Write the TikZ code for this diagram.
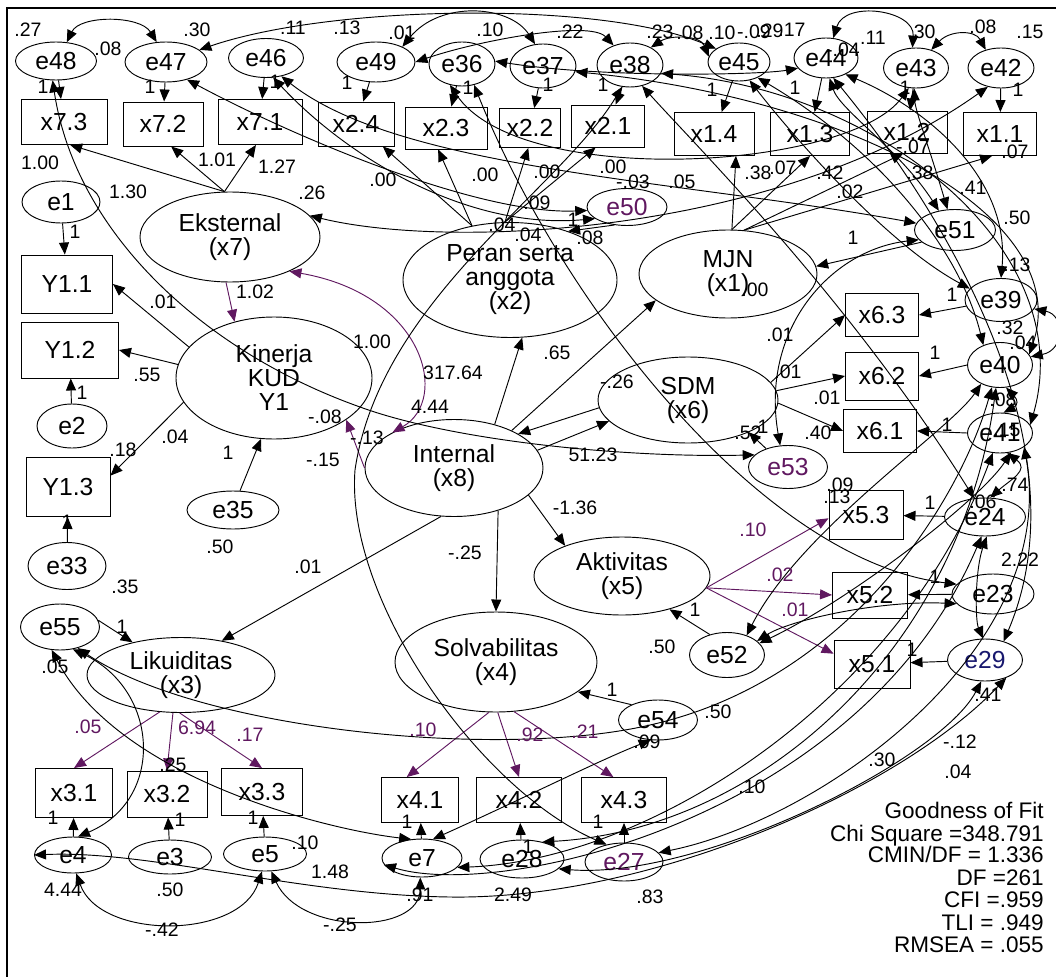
\documentclass[tikz,border=0pt]{standalone}
\usepackage{fontspec}
\setmainfont{Liberation Sans}
\usetikzlibrary{arrows.meta,shapes.geometric}
\definecolor{purp}{RGB}{96,24,96}
\definecolor{navyc}{RGB}{24,24,110}
\newcommand\myNodeFont{\fontsize{18.5}{18}\selectfont}
\newcommand\myLblFont{\fontsize{14.6}{14.6}\selectfont}
\newcommand\myGofFont{\fontsize{16.9}{16.9}\selectfont}
\begin{document}
\begin{tikzpicture}[x=0.75pt,y=-0.75pt,
  >={Triangle[length=9pt,width=7.5pt]},
  sz/.style 2 args={minimum width={#1*0.75pt}, minimum height={#2*0.75pt}},
  obs/.style={rectangle, draw, line width=0.7pt, inner sep=0pt, font=\myNodeFont},
  err/.style={ellipse, draw, line width=0.7pt, inner sep=0pt, font=\myNodeFont},
  lat/.style={ellipse, draw, line width=0.7pt, inner sep=0pt, align=center, font=\myNodeFont},
  pth/.style={->, line width=0.7pt},
  ppth/.style={->, line width=0.7pt, draw=purp},
  cov/.style={<->, line width=0.7pt},
  lbl/.style={inner sep=0pt, font=\myLblFont},
  plbl/.style={inner sep=0pt, font=\myLblFont, text=purp},
  gof/.style={inner sep=0pt, anchor=base east, font=\myGofFont},
]
\useasboundingbox (0,0) rectangle (1056,977);
\draw[line width=2.2pt] (7,977) -- (7,8) -- (1056,8);

% observed boxes
\node[obs, sz={86}{45}] (x73) at (64,122) {x7.3};
\node[obs, sz={80}{44}] (x72) at (163,124) {x7.2};
\node[obs, sz={84}{45}] (x71) at (260,122) {x7.1};
\node[obs, sz={76}{44}] (x24) at (356,124) {x2.4};
\node[obs, sz={82}{42}] (x23) at (446,128) {x2.3};
\node[obs, sz={61}{39}] (x22) at (530,128) {x2.2};
\node[obs, sz={73}{42}] (x21) at (608,126) {x2.1};
\node[obs, sz={80}{43}] (x14) at (714,134) {x1.4};
\node[obs, sz={79}{43}] (x13) at (810,134) {x1.3};
\node[obs, sz={80}{42}] (x12) at (907,132) {x1.2};
\node[obs, sz={73}{43}] (x11) at (1000,134) {x1.1};
\node[obs, sz={91}{58}] (Y11) at (67,284) {Y1.1};
\node[obs, sz={97}{56}] (Y12) at (70,350) {Y1.2};
\node[obs, sz={84}{59}] (Y13) at (68,487) {Y1.3};
\node[obs, sz={73}{43}] (x63) at (882,315) {x6.3};
\node[obs, sz={73}{48}] (x62) at (882,376) {x6.2};
\node[obs, sz={73}{43}] (x61) at (880,431) {x6.1};
\node[obs, sz={74}{49}] (x53) at (866,515) {x5.3};
\node[obs, sz={75}{46}] (x52) at (870,595) {x5.2};
\node[obs, sz={76}{48}] (x51) at (872,664) {x5.1};
\node[obs, sz={77}{49}] (x31) at (74,793) {x3.1};
\node[obs, sz={80}{46}] (x32) at (167,794) {x3.2};
\node[obs, sz={81}{47}] (x33) at (262,792) {x3.3};
\node[obs, sz={77}{45}] (x41) at (420,800) {x4.1};
\node[obs, sz={85}{45}] (x42) at (519,800) {x4.2};
\node[obs, sz={85}{45}] (x43) at (624,800) {x4.3};

% error ellipses
\node[err, sz={81}{38}] (e48) at (56,61) {e48};
\node[err, sz={82}{40}] (e47) at (166,62) {e47};
\node[err, sz={75}{39}] (e46) at (266,58) {e46};
\node[err, sz={78}{40}] (e49) at (376,62) {e49};
\node[err, sz={66}{44}] (e36) at (462,64) {e36};
\node[err, sz={66}{44}] (e37) at (543,66) {e37};
\node[err, sz={66}{44}] (e38) at (630,65) {e38};
\node[err, sz={62}{38}] (e45) at (739,62) {e45};
\node[err, sz={64}{40}] (e44) at (826,58) {e44};
\node[err, sz={65}{40}] (e43) at (916,68) {e43};
\node[err, sz={66}{40}] (e42) at (1001,68) {e42};
\node[err, sz={78}{42}] (e1) at (61,202) {e1};
\node[err, sz={70}{44}] (e2) at (72,426) {e2};
\node[err, sz={78}{47}] (e33) at (67,566) {e33};
\node[err, sz={92}{38}] (e35) at (233,510) {e35};
\node[err, sz={80}{37}, text=purp] (e50) at (627,207) {e50};
\node[err, sz={81}{41}] (e51) at (955,230) {e51};
\node[err, sz={72}{43}] (e39) at (1001,300) {e39};
\node[err, sz={65}{45}] (e40) at (1000,365) {e40};
\node[err, sz={65}{40}] (e41) at (1000,433) {e41};
\node[err, sz={79}{43}, text=purp] (e53) at (788,467) {e53};
\node[err, sz={81}{38}] (e24) at (985,517) {e24};
\node[err, sz={82}{40}] (e23) at (993,594) {e23};
\node[err, sz={75}{42}, text=navyc] (e29) at (985,660) {e29};
\node[err, sz={75}{45}] (e52) at (727,655) {e52};
\node[err, sz={79}{40}] (e54) at (658,720) {e54};
\node[err, sz={79}{46}] (e55) at (60,627) {e55};
\node[err, sz={77}{36}] (e4) at (73,855) {e4};
\node[err, sz={83}{34}] (e3) at (170,857) {e3};
\node[err, sz={83}{34}] (e5) at (265,854) {e5};
\node[err, sz={80}{38}] (e7) at (422,858) {e7};
\node[err, sz={84}{38}] (e28) at (522,859) {e28};
\node[err, sz={78}{38}, text=purp] (e27) at (624,862) {e27};

% latent ellipses
\node[lat, sz={180}{90}] (Eks) at (230,237) {Eksternal\\(x7)};
\node[lat, sz={196}{122}] (Kin) at (274,378) {Kinerja\\KUD\\Y1};
\node[lat, sz={214}{115}] (x2) at (510,280) {Peran serta\\anggota\\(x2)};
\node[lat, sz={178}{88}] (MJN) at (728,274) {MJN\\(x1)};
\node[lat, sz={180}{86}] (SDM) at (688,400) {SDM\\(x6)};
\node[lat, sz={178}{97}] (Int) at (454,468) {Internal\\(x8)};
\node[lat, sz={176}{78}] (Akt) at (622,576) {Aktivitas\\(x5)};
\node[lat, sz={202}{100}] (Sol) at (496,662) {Solvabilitas\\(x4)};
\node[lat, sz={188}{75}] (Lik) at (181,675) {Likuiditas\\(x3)};

% error -> indicator paths
\foreach \a/\b in {e48/x73,e47/x72,e46/x71,e49/x24,e36/x23,e37/x22,e38/x21,e45/x14,e44/x13,e43/x12,e42/x11,e1/Y11,e2/Y12,e33/Y13,e24/x53,e23/x52,e29/x51,e7/x41,e28/x42,e27/x43,e4/x31,e3/x32,e5/x33}
  \draw[pth] (\a) -- (\b);

% structural paths
\draw[pth] (Eks.97) -- (x73.-75);
\draw[pth] (Eks.97) -- (x72.-70);
\draw[pth] (Eks.97) -- (x71.260);
\draw[pth] (Kin.160) -- (Y11.east);
\draw[pth] (Kin.172) -- (Y12.east);
\draw[pth] (Kin.195) -- (Y13.15);
\draw[ppth] (Eks.265) -- (Kin.125);
\draw[pth] (e35.70) -- (Kin.258);
\draw[ppth] (Int.west) -- (Kin.330);
\draw[pth] (Int.47) -- (x2.282);
\draw[pth] (Int.33) -- (MJN.200);
\draw[pth] (Int.12) -- (SDM.195);
\draw[pth] (SDM.185) -- (Int.28);
\draw[pth] (Int.340) -- (Akt.152);
\draw[pth] (Int.316) -- (Sol.north);
\draw[pth] (Int.255) -- (Lik.40);
\draw[pth] (x2.125) -- (x24.320);
\draw[pth] (x2.125) -- (x23.250);
\draw[pth] (x2.95) -- (x22.265);
\draw[pth] (x2.95) -- (x21.240);
\draw[pth] (e50.235) -- (x2.40);
\draw[pth] (MJN.85) -- (x14.315);
\draw[pth] (MJN.85) -- (x13.south);
\draw[pth] (MJN.70) -- (x12.260);
\draw[pth] (MJN.70) -- (x11.250);
\draw[pth] (e51.200) -- (MJN.5);
\draw[pth] (SDM.12) -- (x63.west);
\draw[pth] (SDM.6) -- (x62.west);
\draw[pth] (SDM.358) -- (x61.west);
\draw[pth] (e39.190) -- (x63.east);
\draw[pth] (e40.west) -- (x62.east);
\draw[pth] (e41.west) -- (x61.east);
\draw[pth] (e53.140) -- (SDM.332);
\draw[ppth] (Akt.352) -- (x53.185);
\draw[ppth] (Akt.352) -- (x52.west);
\draw[ppth] (Akt.352) -- (x51.165);
\draw[pth] (e52.130) -- (Akt.325);
\draw[ppth] (Sol.262) -- (x41.120);
\draw[ppth] (Sol.272) -- (x42.north);
\draw[ppth] (Sol.290) -- (x43.115);
\draw[pth] (e54.150) -- (Sol.340);
\draw[ppth] (Lik.240) -- (x31.north);
\draw[ppth] (Lik.258) -- (x32.north);
\draw[ppth] (Lik.268) -- (x33.north);
\draw[pth] (e55.10) -- (Lik.146);

% covariances
\draw[cov] (e48.60) .. controls (80,15) and (140,15) .. (e47.115);
\draw[cov] (e43.50) .. controls (950,30) and (975,30) .. (e42.130);
\draw[cov] (e44.70) .. controls (845,0) and (915,10) .. (e43.100);
\draw[cov,purp] (Eks.330) .. controls (425,295) and (450,400) .. (Int.150);
\draw[cov] (e48.260) .. controls (75,230) and (200,350) .. (360,407) .. controls (450,440) and (620,458) .. (e53.160);
\draw[cov] (e38.250) .. controls (560,190) and (380,300) .. (355,470) .. controls (345,600) and (480,790) .. (e27.135);
\draw[cov] (e47.20) .. controls (330,5) and (600,0) .. (e45.150);
\draw[cov] (e47.320) .. controls (300,140) and (480,215) .. (e50.185);
\draw[cov] (e46.290) .. controls (350,160) and (470,230) .. (e50.200);
\draw[cov] (e46.310) .. controls (400,170) and (680,180) .. (e51.170);
\draw[cov] (Eks.15) .. controls (450,250) and (780,235) .. (e42.235);
\draw[cov] (e49.30) .. controls (440,0) and (510,5) .. (e37.110);
\draw[cov] (e49.0) .. controls (480,40) and (590,20) .. (e38.130);
\draw[cov] (e36.5) .. controls (600,78) and (760,75) .. (e44.200);
\draw[cov] (e36.240) .. controls (520,190) and (850,170) .. (e43.250);
\draw[cov] (e38.40) .. controls (670,35) and (700,35) .. (e45.170);
\draw[cov] (e44.320) .. controls (930,110) and (1010,180) .. (e39.90);
\draw[cov] (e45.320) .. controls (880,150) and (960,250) .. (e40.130);
\draw[cov] (e38.345) .. controls (880,90) and (1080,250) .. (e41.15);
\draw[cov] (e37.350) .. controls (860,100) and (1075,220) .. (e40.20);
\draw[cov] (e39.345) .. controls (1065,315) and (1065,350) .. (e40.15);
\draw[cov] (e40.285) .. controls (1018,400) and (1018,405) .. (e41.80);
\draw[cov] (e41.290) .. controls (1030,470) and (1010,480) .. (e24.75);
\draw[cov] (e29.95) .. controls (975,620) and (975,570) .. (e24.275);
\draw[cov] (e44.290) .. controls (950,220) and (1085,450) .. (e29.45);
\draw[cov] (e36.300) .. controls (560,300) and (760,560) .. (e23.165);
\draw[cov] (e52.25) .. controls (790,620) and (880,600) .. (e23.195);
\draw[cov] (e29.260) .. controls (940,760) and (700,880) .. (e28.345);
\draw[cov] (e4.west) .. controls (150,850) and (300,895) .. (450,897) .. controls (650,900) and (900,790) .. (e29.320);
\draw[cov] (e7.190) .. controls (500,900) and (860,820) .. (e24.260);
\draw[cov] (e28.40) .. controls (760,830) and (960,650) .. (e40.260);
\draw[cov] (e7.345) .. controls (650,860) and (900,700) .. (e41.250);
\draw[cov] (e27.15) .. controls (820,820) and (1060,650) .. (e41.330);
\draw[cov] (e4.280) .. controls (100,940) and (240,940) .. (e5.260);
\draw[cov] (e5.290) .. controls (300,935) and (420,935) .. (e7.265);
\draw[cov] (e4.75) .. controls (165,800) and (160,690) .. (e55.300);
\draw[cov] (e55.250) .. controls (120,780) and (330,830) .. (e7.120);
\draw[cov] (e7.60) .. controls (520,800) and (600,760) .. (e54.250);
\draw[cov] (e55.310) .. controls (200,730) and (500,760) .. (650,725) .. controls (850,680) and (960,500) .. (e40.250);
\draw[cov] (e52.20) .. controls (850,600) and (980,500) .. (e41.300);
\draw[cov] (e52.45) .. controls (800,530) and (950,430) .. (e40.225);
\draw[cov] (e53.110) .. controls (760,330) and (830,250) .. (e51.195);
\draw[cov] (e51.110) .. controls (930,150) and (915,110) .. (e43.265);
\draw[cov] (e51.130) .. controls (900,150) and (840,110) .. (e44.280);
\draw[cov] (e39.160) .. controls (880,240) and (780,120) .. (e45.300);
\draw[cov] (e24.120) .. controls (850,300) and (700,150) .. (e38.300);

% labels
\foreach \px/\py/\t [count=\i] in {28/30/.27, 108/49/.08, 197/30/.30, 293/28/.11, 347/28/.13, 402/33/.01, 490/30/.10, 570/32/.22, 660/32/.23, 690/33/.08, 722/33/.10, 754/32/-.09, 770/31/.29, 792/30/.17, 843/50/-.04, 873/38/.11, 922/32/.30, 983/27/.08, 1030/32/.15,
43/87/1, 150/87/1, 275/82/1, 347/83/1, 468/88/1, 548/85/1, 603/85/1, 712/90/1, 795/88/1, 905/88/1, 1018/90/1,
40/163/1.00, 217/160/1.01, 277/167/1.27, 128/192/1.30, 312/193/.26, 383/180/.00, 485/175/.00, 547/172/.00, 613/167/.00, 633/182/-.03, 682/182/.05, 537/203/.09, 502/225/.04, 528/235/.04, 573/220/1, 590/238/.08,
758/173/.38, 783/168/.07, 830/173/.42, 850/192/.02, 913/147/-.07, 920/173/.38, 1015/152/.07, 973/188/.41, 1017/218/.50, 853/238/1, 755/290/.00, 1017/265/.13, 952/295/1, 1010/328/.32, 1023/343/.04, 935/353/1, 1003/400/.08, 780/335/.01, 788/372/.01, 827/398/.01, 818/433/.40, 748/433/.52, 763/427/1, 1007/430/.15, 947/425/1,
617/382/-.26, 557/353/.65, 372/342/1.00, 453/373/317.64, 430/407/4.44, 325/417/-.08, 367/438/-.13, 323/460/-.15, 593/455/51.23, 255/292/1.02, 163/302/.01, 147/375/.55, 82/393/1, 75/232/1, 175/437/.04, 123/450/.18, 228/453/1, 67/522/1, 220/547/.50, 125/587/.35, 308/567/.01, 122/627/1, 575/508/-1.36, 465/553/-.25,
840/485/.09, 837/497/.13, 930/503/1, 983/502/.06, 1015/485/.74, 935/577/1, 1020/560/2.22, 695/610/1, 662/647/.50, 912/650/1, 55/667/.05, 173/765/.25, 612/690/1, 647/742/.09, 718/712/.50, 988/695/.41, 960/742/-.12, 882/760/.30, 958/772/.04, 752/787/.10,
53/818/1, 180/820/1, 253/818/1, 407/822/1, 528/847/1, 598/822/1, 305/843/.10, 330/872/1.48, 63/890/4.44, 170/890/.50, 162/930/-.42, 340/925/-.25, 420/895/.91, 513/895/2.49, 650/897/.83}
  {\node[lbl] (L\i) at (\px,\py) {\t};}
\foreach \px/\py/\t [count=\i] in {753/530/.10, 780/575/.02, 795/610/.01, 88/727/.05, 197/728/6.94, 250/735/.17, 423/730/.10, 530/735/.92, 585/732/.21}
  {\node[plbl] (P\i) at (\px,\py) {\t};}

% goodness of fit
\node[gof] (g1) at (1044,818) {Goodness of Fit};
\node[gof] (g2) at (1044,841) {Chi Square =348.791};
\node[gof] (g3) at (1044,862) {CMIN/DF = 1.336};
\node[gof] (g4) at (1044,885) {DF =261};
\node[gof] (g5) at (1044,907) {CFI =.959};
\node[gof] (g6) at (1044,930) {TLI = .949};
\node[gof] (g7) at (1044,952) {RMSEA = .055};
\end{tikzpicture}
\end{document}
